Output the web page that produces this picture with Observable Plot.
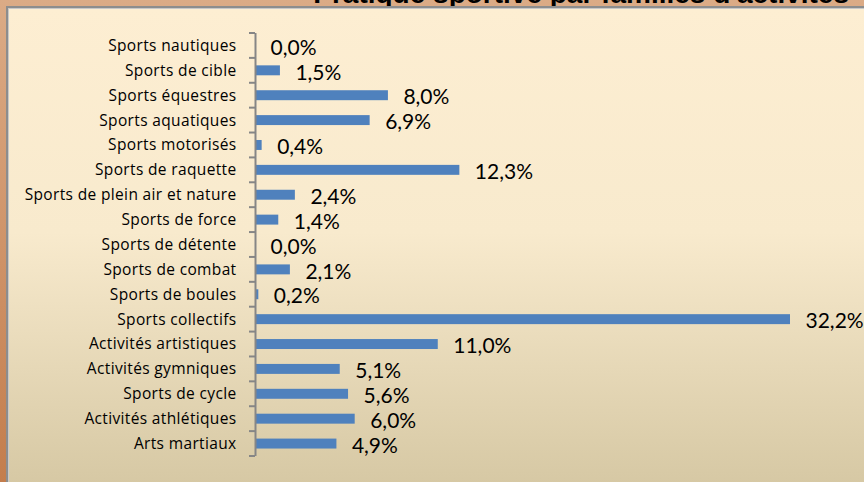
<!DOCTYPE html>
<html><head><meta charset="utf-8">
<script src="https://cdn.jsdelivr.net/npm/d3@7"></script>
<script src="https://cdn.jsdelivr.net/npm/@observablehq/plot@0.6"></script>
<style>
html,body{margin:0;padding:0;}
#frame{position:relative;width:864px;height:482px;overflow:hidden;background:linear-gradient(to bottom,#dbab86,#c37d4d);}
#title{position:absolute;right:15px;top:-20px;font:bold 28px "Liberation Sans",Arial,sans-serif;line-height:28px;color:#000;white-space:nowrap;}
#panel{position:absolute;left:6px;top:6px;width:900px;height:500px;border-left:2px solid #8d8d8d;border-top:2px solid #8d8d8d;box-shadow:inset 1px 1px 0 #c8c8c8;background:linear-gradient(to bottom,#fdeed2 0%,#f8eacd 45%,#d3c5a0 100%);}
#chart{position:absolute;left:0;top:0;}
#chart svg{background:transparent;}
#chart [aria-label="y-axis tick label"] text{font-family:"Open Sans",sans-serif;font-size:15.5px;letter-spacing:0.35px;}
</style></head>
<body>
<div id="frame">
  <div id="title">Pratique sportive par familles d'activités</div>
  <div id="panel"></div>
  <div id="chart"></div>
</div>
<script>
const categories = [
  "Sports nautiques","Sports de cible","Sports équestres","Sports aquatiques","Sports motorisés",
  "Sports de raquette","Sports de plein air et nature","Sports de force","Sports de détente",
  "Sports de combat","Sports de boules","Sports collectifs","Activités artistiques",
  "Activités gymniques","Sports de cycle","Activités athlétiques","Arts martiaux"
];
const values = [0.0,1.5,8.0,6.9,0.4,12.3,2.4,1.4,0.0,2.1,0.2,32.2,11.0,5.1,5.6,6.0,4.9];

const rows = categories.map((c,i)=>({category:c, value:values[i]}));
const fmt = v => v.toFixed(1).replace(".", ",") + "%";

const boundaryTicks = (index, scales) => {
  const y = scales.y;
  const bw = y.bandwidth();
  const step = y.step();
  const x0 = scales.x(0);
  const ys = categories.map(c => y(c) - (step - bw) / 2);
  ys.push(y(categories[categories.length - 1]) + bw + (step - bw) / 2);
  const g = d3.create("svg:g");
  g.selectAll("line").data(ys).join("line")
    .attr("x1", x0 - 6).attr("x2", x0)
    .attr("y1", d => d).attr("y2", d => d)
    .attr("stroke", "#868686").attr("stroke-width", 2);
  return g.node();
};

const chart = Plot.plot({
  width: 864, height: 482,
  marginLeft: 255, marginRight: 74, marginTop: 33, marginBottom: 26,
  style: {background: "transparent", fontFamily: "Lato, sans-serif", color: "#000"},
  x: {domain: [0, 32.2], axis: null},
  y: {domain: categories, paddingInner: 0.6, paddingOuter: 0.3, round: false, label: null, axis: null},
  marks: [
    Plot.axisY({tickSize: 0, tickPadding: 19, label: null}),
    Plot.barX(rows, {x: "value", y: "category", fill: "#4f81bd"}),
    Plot.ruleX([0], {stroke: "#868686", strokeWidth: 2}),
    boundaryTicks,
    Plot.text(rows, {x: "value", y: "category", text: d => fmt(d.value), textAnchor: "start", dx: 15, dy: 2, fontSize: 21, fill: "#000"})
  ]
});
document.getElementById("chart").appendChild(chart);
</script>
</body></html>
